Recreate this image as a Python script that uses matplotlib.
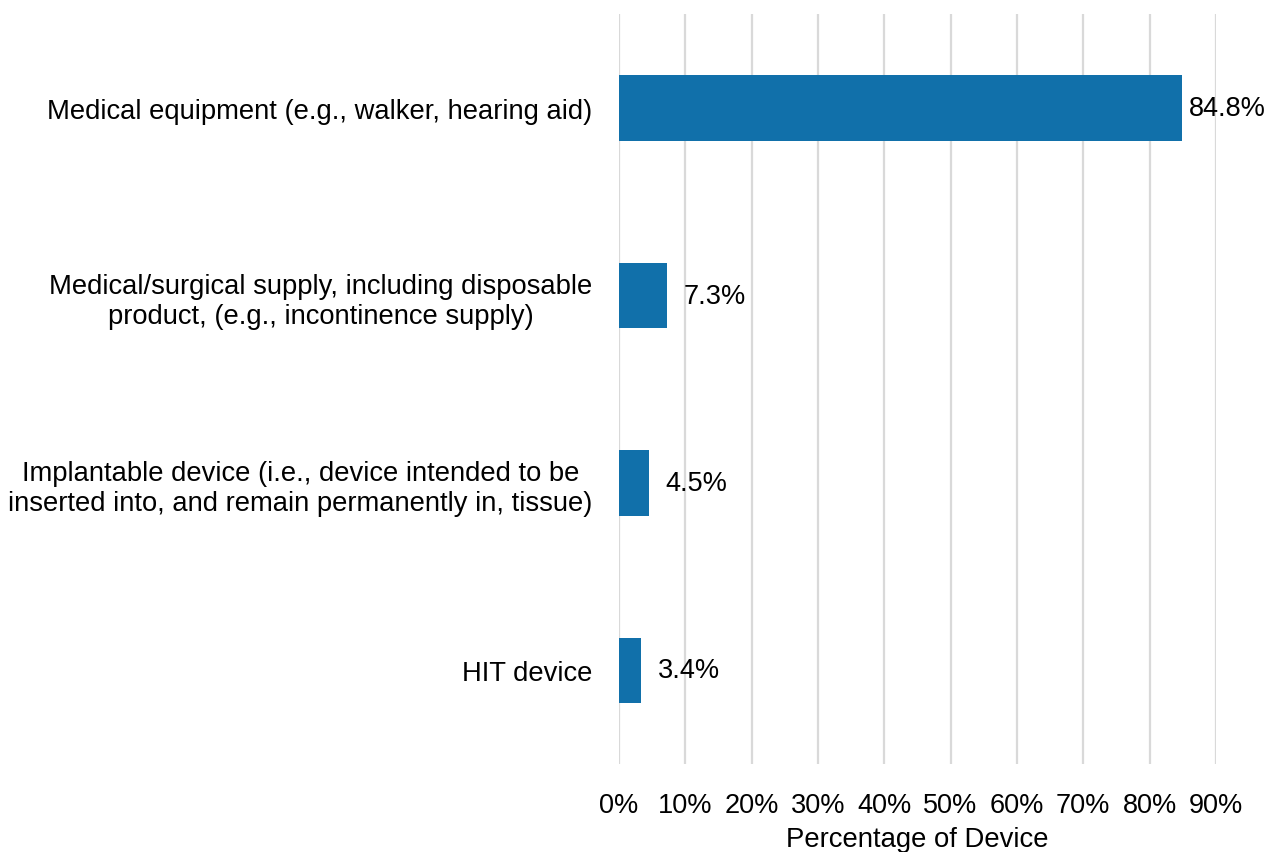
import matplotlib.pyplot as plt
import numpy as np

plt.rcParams['font.family'] = ['Liberation Sans', 'DejaVu Sans']

# data
categories = [
    'Medical equipment (e.g., walker, hearing aid)',
    'Medical/surgical supply, including disposable\nproduct, (e.g., incontinence supply)',
    'Implantable device (i.e., device intended to be\ninserted into, and remain permanently in, tissue)',
    'HIT device',
]
values = [84.8, 7.3, 4.5, 3.4]
xticks = [0, 10, 20, 30, 40, 50, 60, 70, 80, 90]

fig = plt.figure(figsize=(12.68, 8.53), dpi=100)
ax = fig.add_axes([0.488, 0.103, 0.471, 0.879])

y = np.arange(len(categories))
ax.barh(y, values, height=0.35, color='#1170AA', zorder=3)

for yi, v in zip(y, values):
    off = 5 if v > 50 else 12
    ax.annotate(f'{v}%', (v, yi), xytext=(off, 0), textcoords='offset points',
                ha='left', va='center', fontsize=19.5, color='black',
                annotation_clip=False)

ax.set_xlim(0, 90)
ax.set_ylim(len(categories) - 0.5, -0.5)
ax.set_xticks(xticks)
ax.set_xticklabels([f'{t}%' for t in xticks], fontsize=19.5)
ax.set_yticks(y)
ax.set_yticklabels(categories, fontsize=19.7, linespacing=1.2)
for lab in ax.get_yticklabels():
    lab.set_multialignment('center')

ax.tick_params(axis='both', length=0)
ax.tick_params(axis='x', pad=20)
ax.tick_params(axis='y', pad=19)
ax.grid(axis='x', color='#D9D9D9', linewidth=1.6, zorder=0)
for s in ax.spines.values():
    s.set_visible(False)
ax.set_xlabel('Percentage of Device', fontsize=19.8, labelpad=6)

fig.savefig('out.png', dpi=100)
